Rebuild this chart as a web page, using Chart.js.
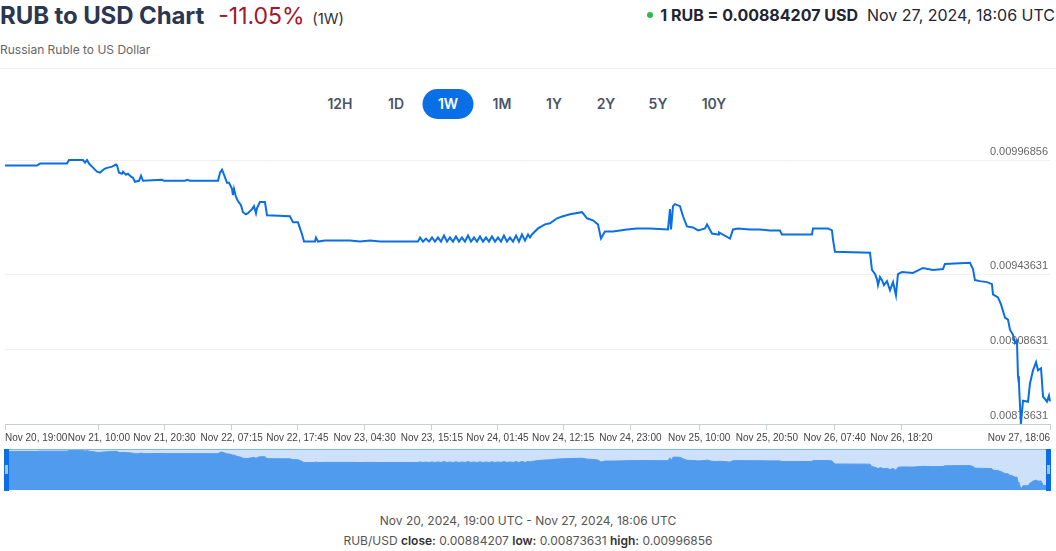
<!DOCTYPE html>
<html>
<head>
<meta charset="utf-8">
<title>RUB to USD Chart</title>
<script src="https://cdn.jsdelivr.net/npm/chart.js@4.4.1/dist/chart.umd.min.js"></script>
<style>
    html, body { margin: 0; padding: 0; background: #fff; }
    body { width: 1056px; height: 551px; position: relative; overflow: hidden; font-family: Inter, "Noto Sans", sans-serif; }
    .abs { position: absolute; white-space: nowrap; }
    #title { left: 0; top: 1px; font-size: 24px; font-weight: 700; color: #2b3752; letter-spacing: -0.1px; }
    #title .chg { color: #a3162b; font-weight: 400; margin-left: 14px; letter-spacing: 0; font-size: 23px; }
    #title .per { color: #333; font-weight: 400; font-size: 15px; margin-left: 2px; letter-spacing: 0; }
    #sub { left: 0; top: 42px; font-size: 12px; color: #666; }
    #rate { right: 1px; top: 5px; font-size: 16px; color: #1f2533; }
    #rate b { font-weight: 700; }
    #rate .dot { display: inline-block; width: 6px; height: 6px; border-radius: 50%; background: #2fb84c; vertical-align: middle; margin-right: 7px; position: relative; top: -2px; }
    #sep { position: absolute; left: 0; top: 68px; width: 1056px; height: 1px; background: #eeeeee; }
    .btn { top: 89px; height: 30px; line-height: 30px; font-size: 14px; font-weight: 600; color: #4a5468; text-align: center; transform: translateX(-50%); }
    .btn.on { background: #0a6ee6; color: #fff; border-radius: 15px; width: 51px; }
    #myChartWrap { position: absolute; left: 0; top: 130px; width: 1056px; height: 316px; }
    #navWrap { position: absolute; left: 5px; top: 450px; width: 1045px; height: 40px; background: #cde2fa; }
    .handle { position: absolute; top: 449px; width: 5px; height: 42px; background: #0a6ee6; }
    .handle i { position: absolute; left: 1px; top: 16px; width: 3px; height: 9px; background: #9cc4f2; }
    #navTop { position: absolute; left: 5px; top: 449px; width: 1045px; height: 1px; background: #7fb5f2; }
    .foot { left: 0; width: 1056px; text-align: center; font-size: 12px; color: #555; }
    .foot b { color: #333; font-weight: 600; }
</style>
</head>
<body>
<div id="title" class="abs">RUB to USD Chart<span class="chg">-11.05%</span> <span class="per">(1W)</span></div>
<div id="sub" class="abs">Russian Ruble to US Dollar</div>
<div id="rate" class="abs"><span class="dot"></span><b>1 RUB = 0.00884207 USD</b>&nbsp; Nov 27, 2024, 18:06 UTC</div>
<div id="sep"></div>

<div id="btns"></div>

<div id="myChartWrap"><canvas id="myChart"></canvas></div>
<div id="navWrap"><canvas id="navChart"></canvas></div>
<div id="navTop"></div>
<div class="handle" style="left:4px"><i></i></div>
<div class="handle" style="left:1046px"><i></i></div>

<div class="abs foot" style="top:513px">Nov 20, 2024, 19:00 UTC - Nov 27, 2024, 18:06 UTC</div>
<div class="abs foot" style="top:533px">RUB/USD <b>close:</b> 0.00884207 <b>low:</b> 0.00873631 <b>high:</b> 0.00996856</div>

<script>
// 기간 버튼
const ranges = ['12H', '1D', '1W', '1M', '1Y', '2Y', '5Y', '10Y'];
const rangeX = [340, 396, 448, 502, 554, 606, 658, 714];
const activeRange = '1W';

// 2024-11-20 19:00 UTC 부터 경과한 분
const minutes = [
    0, 307, 336, 595, 614, 748, 768, 787, 806, 844, 883, 911, 931, 959, 988, 1027, 1065, 1075, 1094, 1122,
    1132, 1161, 1180, 1209, 1228, 1247, 1286, 1305, 1324, 1506, 1525, 1727, 1746, 1775, 2044, 2063, 2082, 2101, 2130, 2149,
    2178, 2187, 2197, 2216, 2235, 2264, 2283, 2312, 2331, 2370, 2389, 2408, 2418, 2446, 2494, 2514, 2734, 2763, 2811, 2850,
    2869, 2974, 2984, 3003, 3070, 3310, 3406, 3502, 3598, 3962,
    3982, 4010, 4039, 4068, 4097, 4125, 4154, 4183, 4212, 4241, 4269, 4298, 4327, 4356, 4384, 4413, 4442, 4471, 4500, 4528,
    4557, 4586, 4615, 4643, 4672, 4701, 4730, 4759, 4787, 4816, 4845, 4874, 4903, 4931, 4960, 4989, 5018, 5037,
    5056, 5114, 5181, 5229, 5296, 5353, 5421, 5536, 5584, 5641, 5689, 5718, 5756, 5833, 5968, 6063, 6188, 6361, 6380, 6390,
    6409, 6428, 6476, 6505, 6543, 6601, 6649, 6716, 6735, 6783, 6841, 6850, 6956, 6985, 7033, 7148, 7243, 7339, 7435, 7454,
    7742, 7752, 7896, 7934, 7944, 7963, 8299, 8318, 8347, 8366, 8376, 8395, 8414, 8433, 8462, 8491, 8520, 8548, 8567, 8606,
    8711, 8807, 8903, 8999, 9018, 9258, 9287, 9306, 9354, 9421, 9469, 9479, 9527, 9556, 9594, 9623, 9642, 9671, 9690, 9709,
    9719, 9728, 9747, 9767, 9815, 9834, 9863, 9892, 9911, 9940, 9959, 9997, 10016, 10026
];

const rates = [
    0.00994246, 0.00994246, 0.00995192, 0.00995192, 0.00996856, 0.00996856, 0.00995665, 0.00996856, 0.00995192, 0.00993300,
    0.00991408, 0.00990935, 0.00991881, 0.00992827, 0.00993300, 0.00993773, 0.00994719, 0.00994246, 0.00990935, 0.00990462,
    0.00991408, 0.00989989, 0.00990462, 0.00989043, 0.00988570, 0.00986678, 0.00987151, 0.00989516, 0.00987151, 0.00987624,
    0.00987151, 0.00987151, 0.00987624, 0.00987151, 0.00987151, 0.00990935, 0.00992354, 0.00989989, 0.00986205, 0.00986205,
    0.00983367, 0.00980529, 0.00983367, 0.00979583, 0.00977691, 0.00975799, 0.00972488, 0.00971542, 0.00972015, 0.00973907,
    0.00975326, 0.00972015, 0.00974380, 0.00977218, 0.00977218, 0.00971069, 0.00970596, 0.00967758, 0.00967758, 0.00962082,
    0.00958771, 0.00958771, 0.00960663, 0.00958771, 0.00959244, 0.00959244, 0.00958771, 0.00959244, 0.00958771, 0.00958771,
    0.00960663, 0.00958771, 0.00960190, 0.00958771, 0.00960663, 0.00958771, 0.00960663, 0.00958771, 0.00961609, 0.00958771,
    0.00960663, 0.00958771, 0.00961136, 0.00958771, 0.00960663, 0.00958771, 0.00961609, 0.00958771, 0.00960663, 0.00958771,
    0.00961136, 0.00958771, 0.00960663, 0.00958771, 0.00961136, 0.00958771, 0.00960663, 0.00958771, 0.00961609, 0.00958771,
    0.00960663, 0.00958771, 0.00961609, 0.00958771, 0.00962082, 0.00959244, 0.00962082, 0.00960663,
    0.00962082, 0.00964920, 0.00966812, 0.00967285, 0.00969650, 0.00970596, 0.00971542, 0.00972488, 0.00969650, 0.00968704,
    0.00966812, 0.00960190, 0.00963501, 0.00963501, 0.00964447, 0.00964920, 0.00964920, 0.00964447, 0.00973907, 0.00964447,
    0.00975326, 0.00976272, 0.00975326, 0.00970596, 0.00965866, 0.00965393, 0.00963974, 0.00964920, 0.00966812, 0.00962555,
    0.00962082, 0.00963028, 0.00960190, 0.00964447, 0.00964920, 0.00964447, 0.00964447, 0.00963974, 0.00963974, 0.00962082,
    0.00962082, 0.00964920, 0.00964920, 0.00963974, 0.00959717, 0.00954041, 0.00953568, 0.00945527, 0.00943635, 0.00941270,
    0.00938432, 0.00942216, 0.00940797, 0.00938432, 0.00940324, 0.00936067, 0.00939851, 0.00933702, 0.00943635, 0.00944581,
    0.00944108, 0.00946473, 0.00945527, 0.00946000, 0.00948365, 0.00948838, 0.00946000, 0.00940797, 0.00940324, 0.00939851,
    0.00938905, 0.00934175, 0.00932756, 0.00929445, 0.00923296, 0.00922350, 0.00917620, 0.00915255, 0.00911471, 0.00912417,
    0.00895862, 0.00892551, 0.00873631, 0.00884510, 0.00884037, 0.00892551, 0.00898700, 0.00902484, 0.00898700, 0.00899646,
    0.00886402, 0.00884037, 0.00886875, 0.00884207
];

// 요약값
const lowRate = 0.00873631;
const highRate = 0.00996856;
const yTicks = [0.00873631, 0.00908631, 0.00943631, 0.00996856];

// x축 눈금 (분) / 라벨
const tickMinutes = [0, 900, 1530, 2175, 2805, 3450, 4095, 4725, 5355, 6000, 6660, 7310, 7960, 8600, 10026];
const tickLabels = [
    'Nov 20, 19:00', 'Nov 21, 10:00', 'Nov 21, 20:30', 'Nov 22, 07:15', 'Nov 22, 17:45',
    'Nov 23, 04:30', 'Nov 23, 15:15', 'Nov 24, 01:45', 'Nov 24, 12:15', 'Nov 24, 23:00',
    'Nov 25, 10:00', 'Nov 25, 20:50', 'Nov 26, 07:40', 'Nov 26, 18:20', 'Nov 27, 18:06'
];

const lineColor = '#0b6fe4';
const axisFamily = '"Liberation Sans", Arial, sans-serif';

// 버튼 그리기
const $btns = document.getElementById('btns');
ranges.forEach((r, i) => {
    const el = document.createElement('div');
    el.className = 'abs btn' + (r === activeRange ? ' on' : '');
    el.style.left = rangeX[i] + 'px';
    el.textContent = r;
    $btns.appendChild(el);
});

const points = minutes.map((m, i) => ({ x: m, y: rates[i] }));

Chart.defaults.animation = false;

// 메인 차트
new Chart(document.getElementById('myChart'), {
    type: 'line',
    data: {
        datasets: [{
            data: points,
            borderColor: lineColor,
            borderWidth: 2,
            pointRadius: 0,
            tension: 0,
            clip: 4
        }]
    },
    options: {
        responsive: true,
        maintainAspectRatio: false,
        layout: { padding: { left: 5, right: 6, top: 30, bottom: 0 } },
        plugins: { legend: { display: false }, tooltip: { enabled: false } },
        scales: {
            x: {
                type: 'linear',
                min: 0,
                max: minutes[minutes.length - 1],
                afterBuildTicks: (scale) => { scale.ticks = tickMinutes.map(v => ({ value: v })); },
                ticks: {
                    autoSkip: false,
                    maxRotation: 0,
                    align: 'inner',
                    padding: 2,
                    color: '#444',
                    font: { family: axisFamily, size: 10 },
                    callback: (v, i) => tickLabels[i]
                },
                grid: { drawOnChartArea: false, drawTicks: true, tickLength: 6, tickColor: '#c8ced8' },
                border: { color: '#c8ced8', width: 1 }
            },
            y: {
                position: 'right',
                min: lowRate,
                max: highRate,
                afterBuildTicks: (scale) => { scale.ticks = yTicks.map(v => ({ value: v })); },
                ticks: {
                    mirror: true,
                    padding: -2,
                    labelOffset: -8,
                    color: '#666',
                    font: { family: axisFamily, size: 11 },
                    callback: (v) => Number(v).toFixed(8)
                },
                grid: { color: '#f0f0f0', drawTicks: false },
                border: { display: false }
            }
        }
    }
});

// 하단 네비게이터
new Chart(document.getElementById('navChart'), {
    type: 'line',
    data: {
        datasets: [{
            data: points,
            borderColor: '#519bef',
            borderWidth: 1,
            backgroundColor: '#519bef',
            fill: 'start',
            pointRadius: 0,
            tension: 0
        }]
    },
    options: {
        responsive: true,
        maintainAspectRatio: false,
        layout: { padding: 0 },
        plugins: { legend: { display: false }, tooltip: { enabled: false } },
        scales: {
            x: { type: 'linear', display: false, min: 0, max: minutes[minutes.length - 1] },
            y: { display: false, min: lowRate - 0.00003, max: highRate + 0.00002 }
        }
    }
});
</script>
</body>
</html>
